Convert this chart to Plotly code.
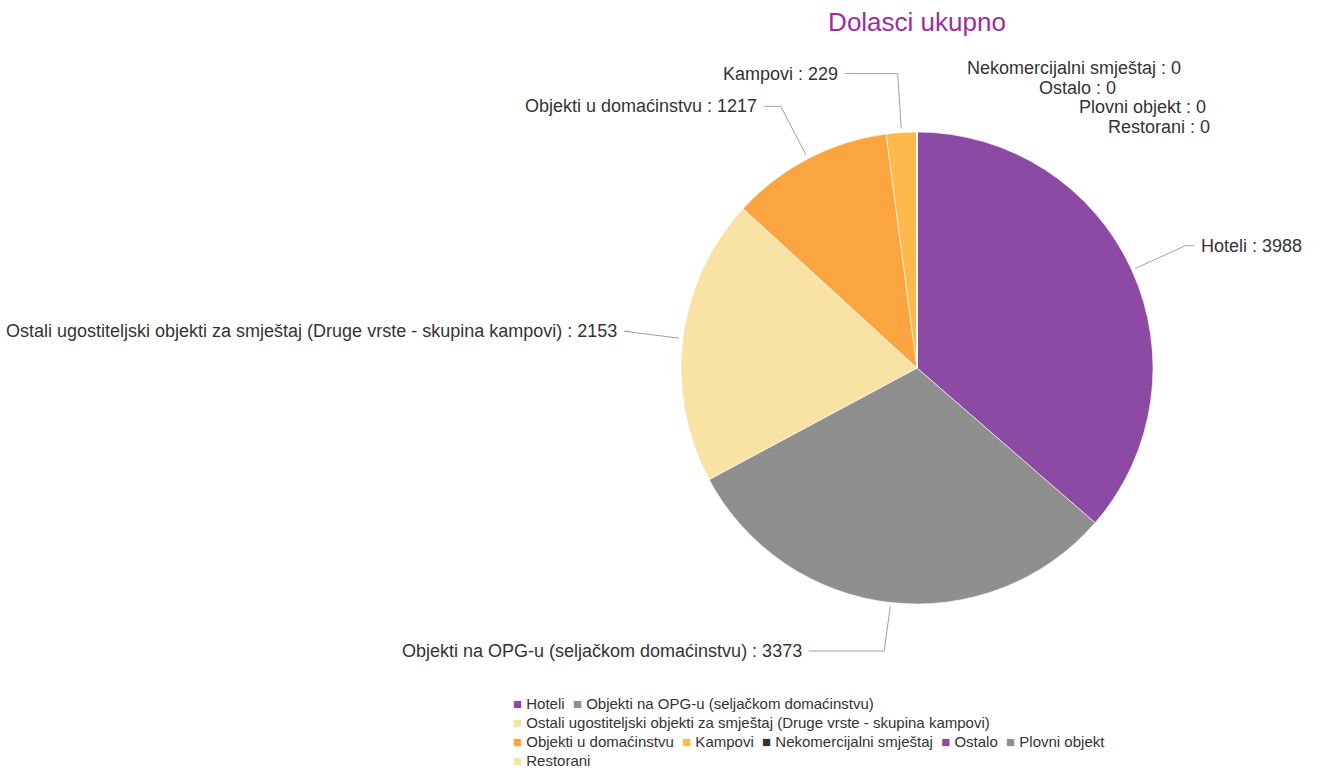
import math
import plotly.graph_objects as go

labels = ["Hoteli",
          "Objekti na OPG-u (seljačkom domaćinstvu)",
          "Ostali ugostiteljski objekti za smještaj (Druge vrste - skupina kampovi)",
          "Objekti u domaćinstvu",
          "Kampovi",
          "Nekomercijalni smještaj",
          "Ostalo",
          "Plovni objekt",
          "Restorani"]
values = [3988, 3373, 2153, 1217, 229, 0, 0, 0, 0]
colors = ["#8c4aa4", "#8f8f8f", "#f8e2a4", "#faa540", "#fdb94c", "#333333",
          "#8c4aa4", "#8f8f8f", "#f8e2a4"]
# which legend entries go on which line
legend_rows = [[0, 1], [2], [3, 4, 5, 6, 7], [8]]

W, H = 1328, 780
cx, cy, r = 917, 368, 236      # pie centre / radius in pixels
r_lab, r_x = 295, 303          # label distance, label x radius
LAB_SIZE = 18
LAB_BOTTOM = 651               # labels stay above the legend

# rough Arial advance widths, used to keep long labels inside the chart
_w = {"i": .222, "j": .222, "l": .222, "I": .278, "f": .278, "t": .278, "r": .333,
      " ": .278, ":": .278, ".": .278, "(": .333, ")": .333, "-": .333,
      "s": .5, "c": .5, "k": .5, "v": .5, "x": .5, "y": .5, "z": .5, "š": .5, "ć": .5,
      "m": .833, "w": .722, "O": .778, "G": .778, "D": .722, "H": .722, "N": .722}

def text_width(s, size):
    return sum(_w.get(ch, .667 if ch.isupper() else .556) for ch in s) * size

def px(x):
    return x / W

def py(y):
    return 1 - y / H

fig = go.Figure()
fig.add_trace(go.Pie(
    labels=labels, values=values, sort=False, direction="clockwise", rotation=0,
    marker=dict(colors=colors, line=dict(color="white", width=0.6)),
    textinfo="none", hoverinfo="label+value", showlegend=False,
    domain=dict(x=[px(cx - r), px(cx + r)], y=[py(cy + r), py(cy - r)]),
))

# data labels with connector lines, placed from the slice angles
total = sum(values)
shapes = []
annotations = []
start = 0
zero_k = 0
lab_font = dict(family="Liberation Sans, Arial", size=LAB_SIZE, color="#333333")
for lab, v in zip(labels, values):
    text = "%s : %d" % (lab, v)
    if v > 0:
        mid = (start + v / 2) / total * 2 * math.pi
        start += v
        s, c = math.sin(mid), math.cos(mid)
        ly = min(cy - r_lab * c, LAB_BOTTOM)
        ex = cx + r_lab * s
        side = 1 if s >= 0 else -1
        lx0 = cx + side * math.sqrt(max(r_x ** 2 - (ly - cy) ** 2, 0))
        lx = lx0
        tw = text_width(text, LAB_SIZE)
        if side < 0 and lx - 5 - tw < 8:
            lx = 8 + tw + 11
            ex = min(ex, lx)
        if side > 0 and lx + 5 + tw > W - 8:
            lx = W - 8 - tw - 11
            ex = max(ex, lx)
        tx, ty = cx + (r + 4) * s, cy - (r + 4) * c
        shapes.append(dict(
            type="path", xref="paper", yref="paper",
            path="M %f,%f L %f,%f L %f,%f" % (px(lx), py(ly), px(ex), py(ly), px(tx), py(ty)),
            line=dict(color="#a0a0a0", width=1)))
        gap = 11 if abs(lx - lx0) > 1 else 5
    else:
        ly = cy - 300 + 19.7 * zero_k
        zero_k += 1
        side = 1
        lx = cx + math.sqrt(max(r_x ** 2 - (ly - cy) ** 2, 0))
        gap = 5
    annotations.append(dict(
        x=px(lx + side * gap), y=py(ly), xref="paper", yref="paper",
        xanchor="left" if side > 0 else "right", yanchor="middle",
        text=text, showarrow=False, font=lab_font))

# legend lines
leg_y = 703
for row in legend_rows:
    parts = []
    for i in row:
        parts.append('<span style="color:%s">■</span> %s' % (colors[i], labels[i]))
    annotations.append(dict(
        x=px(511), y=py(leg_y), xref="paper", yref="paper",
        xanchor="left", yanchor="middle", showarrow=False,
        text="\u00a0\u00a0".join(parts),
        font=dict(family="Liberation Sans, Arial", size=15, color="#333333")))
    leg_y += 19

fig.update_layout(
    width=W, height=780,
    margin=dict(l=0, r=0, t=0, b=0),
    paper_bgcolor="white",
    title=dict(text="Dolasci ukupno", x=px(cx), xanchor="center",
               y=py(22), yref="container", yanchor="middle",
               font=dict(family="Liberation Sans, Arial", size=26, color="#9c2e9f")),
    shapes=shapes,
    annotations=annotations,
)

fig.write_html("out.html", config={"displayModeBar": False},
               post_script="document.body.style.margin='0';")
